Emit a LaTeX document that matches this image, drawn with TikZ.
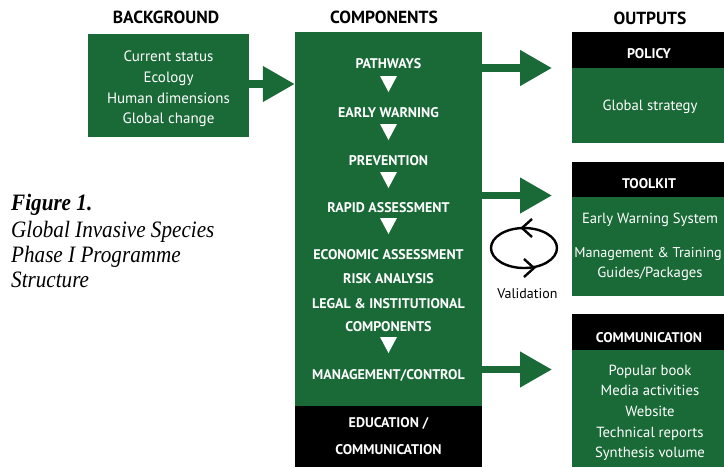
\documentclass[tikz,border=0pt]{standalone}
\usepackage{fontspec}
\setmainfont{PT Sans}
\newfontfamily\capfont[FakeStretch=0.9]{Liberation Serif}
\usetikzlibrary{arrows.meta}
\definecolor{gispgreen}{RGB}{26,106,56}

\tikzset{
  greenbox/.style={fill=gispgreen, inner sep=0pt},
  blackbox/.style={fill=black, inner sep=0pt},
  heading/.style={anchor=base, font=\bfseries\fontsize{17.5}{20}\selectfont},
  compstep/.style={anchor=base, text=white, font=\bfseries\fontsize{14}{16}\selectfont},
  bgitem/.style={anchor=base, text=white, font=\fontsize{15}{18}\selectfont},
  outitem/.style={anchor=base, text=white, font=\fontsize{14.7}{17}\selectfont},
  capline/.style={anchor=base west, inner sep=0pt, font=\capfont\itshape\fontsize{23.5}{27}\selectfont},
  blockarrow/.style={gispgreen, line width=7.5pt, -{Triangle[length=32pt,width=34pt]}},
  cycleline/.style={line width=2.4pt, line join=miter}
}

\begin{document}
\begin{tikzpicture}[x=1pt, y=-1pt]
\useasboundingbox (0,0) rectangle (724,467);

%boxes
	\node[greenbox, minimum width=161pt, minimum height=103pt] (bg) at (168.5,85.5) {};
	\node[greenbox, minimum width=187pt, minimum height=374pt] (comp) at (388.5,219) {};
	\node[blackbox, minimum width=187pt, minimum height=61pt] (edu) at (388.5,436.5) {};

	\node[blackbox, minimum width=154pt, minimum height=36pt] (polhead) at (649,50) {};
	\node[greenbox, minimum width=154pt, minimum height=75pt] (polbody) at (649,105.5) {};
	\node[blackbox, minimum width=154pt, minimum height=35pt] (toolhead) at (649,179.5) {};
	\node[greenbox, minimum width=154pt, minimum height=99pt] (toolbody) at (649,246.5) {};
	\node[blackbox, minimum width=154pt, minimum height=36pt] (commhead) at (649,332) {};
	\node[greenbox, minimum width=154pt, minimum height=117pt] (commbody) at (649,408.5) {};

%titles
	\node[heading] (bgtitle) at (166,23) {BACKGROUND};
	\node[heading] (comptitle) at (384,23) {COMPONENTS};
	\node[heading] (outtitle) at (650,24) {OUTPUTS};

%background
	\foreach \y/\txt [count=\i] in {61.7/Current status, 82.7/Ecology, 103.3/Human dimensions, 123.3/Global change}{
		\node[bgitem] (bg\i) at (168.5,\y) {\txt};
	}

%components
	\foreach \y/\txt [count=\i] in {68/PATHWAYS, 117/EARLY WARNING, 165/PREVENTION, 212/RAPID ASSESSMENT,
		259/ECONOMIC ASSESSMENT, 283/RISK ANALYSIS, 308/LEGAL \& INSTITUTIONAL, 331/COMPONENTS,
		379/{MANAGEMENT/CONTROL}}{
		\node[compstep] (s\i) at (388.5,\y) {\txt};
	}
	\foreach \ty in {84, 132, 180, 226, 345}{
		\fill[white] (380,\ty-8) -- (397,\ty-8) -- (388.5,\ty+8) -- cycle;
	}
	\node[compstep] (edu1) at (388.5,427) {EDUCATION /};
	\node[compstep] (edu2) at (388.5,454) {COMMUNICATION};

%outputs
	\node[compstep] (pol) at (649,58) {POLICY};
	\node[outitem] (pol1) at (650,110) {Global strategy};

	\node[compstep] (tool) at (649,188) {TOOLKIT};
	\node[outitem] (tool1) at (650,223) {Early Warning System};
	\node[outitem, font=\fontsize{14.2}{17}\selectfont] (tool2) at (648,257) {Management \& Training};
	\node[outitem] (tool3) at (650,277) {Guides/Packages};

	\node[compstep] (comm) at (649,342) {COMMUNICATION};
	\foreach \y/\txt [count=\i] in {375/Popular book, 395/Media activities, 416/Website, 437/Technical reports, 457/Synthesis volume}{
		\node[outitem] (comm\i) at (650,\y) {\txt};
	}

%arrows
	\coordinate (inlevel) at (0,84);
	\coordinate (tip1) at (552,68);
	\coordinate (tip2) at (552,195.5);
	\coordinate (tip3) at (552,369.5);
	\draw[blockarrow] (bg.east |- inlevel) -- (comp.west |- inlevel);
	\foreach \t in {tip1, tip2, tip3}{
		\draw[blockarrow] (comp.east |- \t) -- (\t);
	}

%validation
	\draw[cycleline] (524,248) ellipse [x radius=33pt, y radius=20pt];
	\draw[cycleline] (532,219) -- (522,228) -- (532,237);
	\draw[cycleline] (524,259) -- (534,268) -- (524,277);
	\node[anchor=base, font=\fontsize{14}{16}\selectfont] (val) at (527.5,298) {Validation};

%caption
	\node[capline, font=\capfont\bfseries\itshape\fontsize{23.5}{27}\selectfont] (cap1) at (11,210) {Figure 1.};
	\node[capline] (cap2) at (11,237) {Global Invasive Species};
	\node[capline] (cap3) at (11,262) {Phase I Programme};
	\node[capline] (cap4) at (11,287) {Structure};

\end{tikzpicture}
\end{document}
